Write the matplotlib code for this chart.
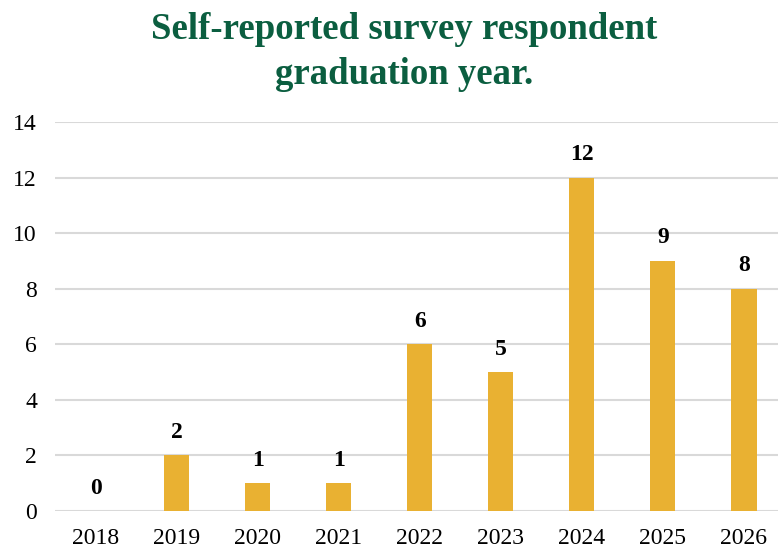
import matplotlib.pyplot as plt
import numpy as np

years = ["2018", "2019", "2020", "2021", "2022", "2023", "2024", "2025", "2026"]
counts = [0, 2, 1, 1, 6, 5, 12, 9, 8]

plt.rcParams['font.family'] = ['Liberation Serif', 'DejaVu Serif']

fig = plt.figure(figsize=(7.78, 5.5), dpi=100)
ax = fig.add_axes([55/778, 39/550, 729.5/778, 389/550])

x = np.arange(len(years))
bars = ax.bar(x, counts, width=0.31, color='#E9B132', zorder=3)

# подписи значений над столбцами
for xi, v in zip(x, counts):
    ax.annotate(str(v), (xi, v), xytext=(0, 9), textcoords='offset points',
                ha='center', va='bottom', fontsize=17, fontweight='bold', color='black')

ax.set_xlim(-0.5, len(years) - 0.5)
ax.set_ylim(0, 14)
ax.set_yticks(np.arange(0, 15, 2))
ax.set_xticks(x)
ax.set_xticklabels(years)
ax.tick_params(axis='both', length=0, labelsize=17, colors='black')
ax.tick_params(axis='x', pad=12)
ax.tick_params(axis='y', pad=13)

ax.grid(axis='y', color='#D9D9D9', linewidth=1.5, zorder=0)
for s in ax.spines.values():
    s.set_visible(False)

fig.suptitle("Self-reported survey respondent\ngraduation year.", x=404/778, y=0.978,
             fontsize=26.5, fontweight='bold', color='#0B5E40', linespacing=1.38, va='top')

fig.savefig("out.png", dpi=100)
